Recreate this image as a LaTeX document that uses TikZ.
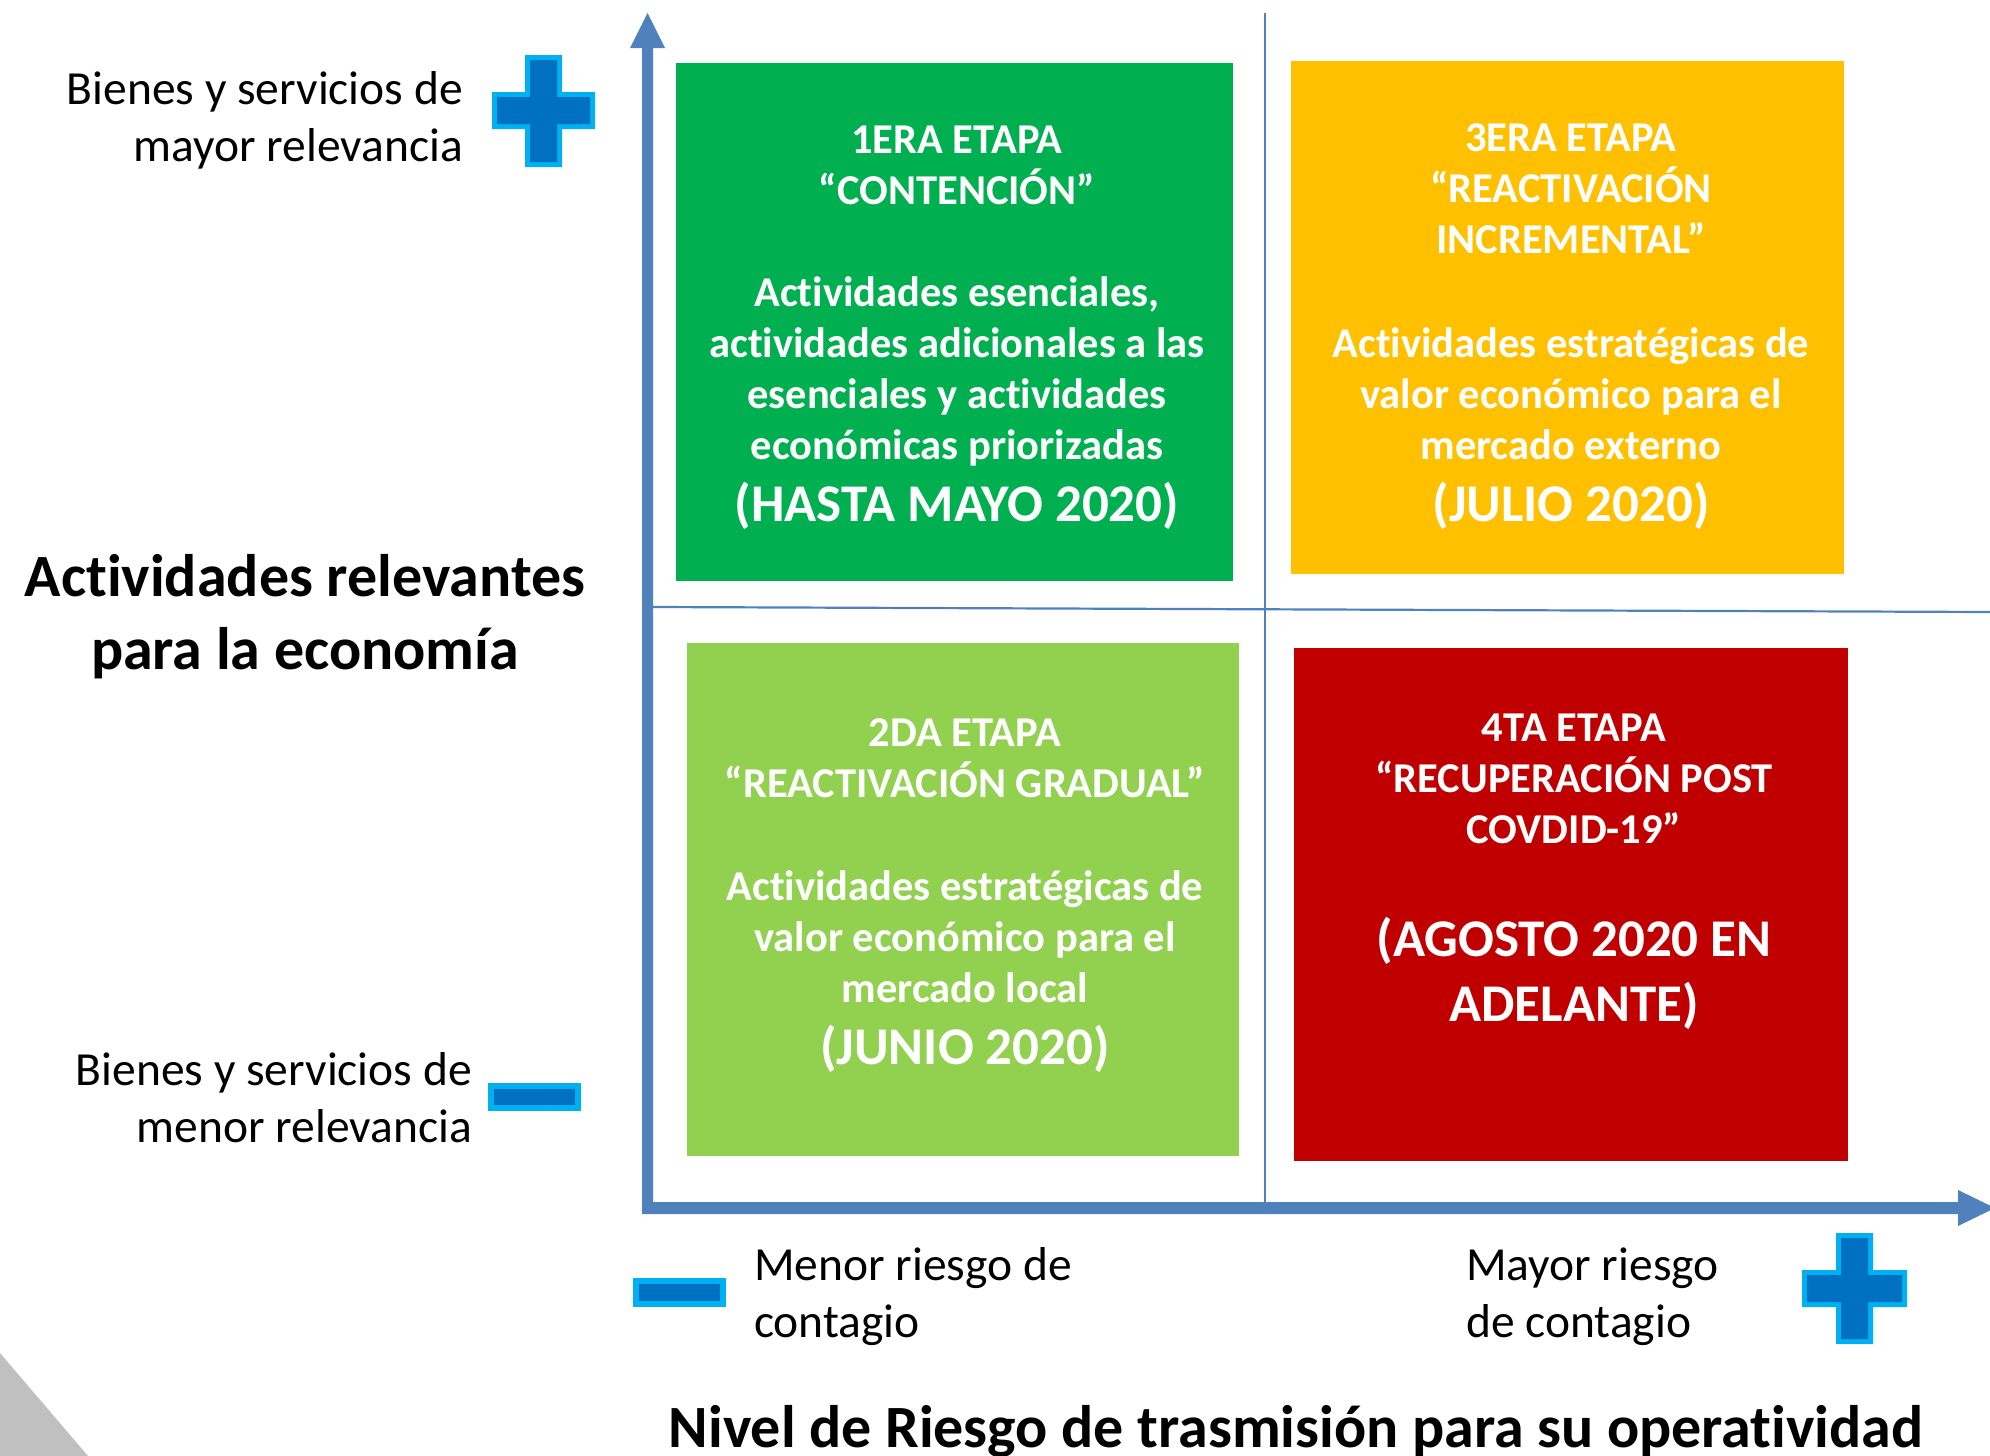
\documentclass[tikz,border=0pt]{standalone}
\usepackage{fontspec}
\setmainfont{Carlito}[Ligatures=NoCommon]
\definecolor{axisblue}{RGB}{79,129,189}
\definecolor{gridblue}{RGB}{79,129,189}
\definecolor{lightblue}{RGB}{0,176,240}
\definecolor{darkblue}{RGB}{0,112,192}
\definecolor{cgreen}{RGB}{0,176,80}
\definecolor{cyellow}{RGB}{255,192,0}
\definecolor{clgreen}{RGB}{146,208,80}
\definecolor{cred}{RGB}{192,0,0}
\definecolor{cgray}{RGB}{192,192,192}
\begin{document}
\begin{tikzpicture}[x=1pt,y=-1pt,
  ln/.style={anchor=base, inner sep=0pt, text=white, font=\bfseries\fontsize{42.5}{50}\selectfont},
  big/.style={anchor=base, inner sep=0pt, text=white, font=\bfseries\fontsize{53}{62}\selectfont},
  side/.style={inner sep=0pt, text=black, font=\fontsize{47.5}{56}\selectfont},
  ttl/.style={anchor=base, inner sep=0pt, text=black, font=\bfseries\fontsize{60}{70}\selectfont},
  grid line/.style={draw=gridblue, line width=2.2pt}]
\useasboundingbox (0,0) rectangle (1990,1456);

% gray corner
\fill[cgray] (0,1353) -- (88,1456) -- (0,1456) -- cycle;

% grid lines
\draw[grid line] (1265,13) -- (1265,1202);
\draw[grid line] (653,607) -- (1990,612);

% boxes
\fill[cgreen] (676,63) rectangle (1233,581);
\fill[cyellow] (1291,61) rectangle (1844,574);
\fill[clgreen] (687,643) rectangle (1239,1156);
\fill[cred] (1294,648) rectangle (1848,1161);

% axes
\fill[axisblue] (642,1214) -- (642,48) -- (630,48) -- (647.5,13) -- (665,48) -- (653,48) -- (653,1202) -- (1958,1202) -- (1958,1190) -- (1995,1208) -- (1958,1226) -- (1958,1214) -- cycle;

% plus top left
\fill[lightblue] (525,55) -- (562,55) -- (562,92) -- (595,92) -- (595,129) -- (562,129) -- (562,167) -- (525,167) -- (525,129) -- (492,129) -- (492,92) -- (525,92) -- cycle;
\fill[darkblue] (530,60) -- (557,60) -- (557,97) -- (590,97) -- (590,124) -- (557,124) -- (557,162) -- (530,162) -- (530,124) -- (497,124) -- (497,97) -- (530,97) -- cycle;
% plus bottom right
\fill[lightblue] (1836,1233) -- (1873,1233) -- (1873,1270) -- (1907,1270) -- (1907,1307) -- (1873,1307) -- (1873,1344) -- (1836,1344) -- (1836,1307) -- (1802,1307) -- (1802,1270) -- (1836,1270) -- cycle;
\fill[darkblue] (1841,1238) -- (1868,1238) -- (1868,1275) -- (1902,1275) -- (1902,1302) -- (1868,1302) -- (1868,1339) -- (1841,1339) -- (1841,1302) -- (1807,1302) -- (1807,1275) -- (1841,1275) -- cycle;
% minus left
\fill[lightblue] (488,1083) rectangle (581,1111);
\fill[darkblue] (494,1089) rectangle (575,1105);
% minus bottom
\fill[lightblue] (633,1278) rectangle (726,1307);
\fill[darkblue] (639,1284) rectangle (720,1301);

% green box text
\node[ln] (g1) at (957,153) {1ERA ETAPA};
\node[ln] (g2) at (957,204) {“CONTENCIÓN”};
\node[ln] (g3) at (957,306) {Actividades esenciales,};
\node[ln] (g4) at (957,357) {actividades adicionales a las};
\node[ln] (g5) at (957,408) {esenciales y actividades};
\node[ln] (g6) at (957,459) {económicas priorizadas};
\node[big] (g7) at (957,521) {(HASTA MAYO 2020)};

% yellow box text
\node[ln] (y1) at (1571,151) {3ERA ETAPA};
\node[ln] (y2) at (1571,202) {“REACTIVACIÓN};
\node[ln] (y3) at (1571,253) {INCREMENTAL”};
\node[ln] (y4) at (1571,357) {Actividades estratégicas de};
\node[ln] (y5) at (1571,408) {valor económico para el};
\node[ln] (y6) at (1571,459) {mercado externo};
\node[big] (y7) at (1571,521) {(JULIO 2020)};

% light green box text
\node[ln] (l1) at (965,746) {2DA ETAPA};
\node[ln] (l2) at (965,797) {“REACTIVACIÓN GRADUAL”};
\node[ln] (l3) at (965,900) {Actividades estratégicas de};
\node[ln] (l4) at (965,951) {valor económico para el};
\node[ln] (l5) at (965,1002) {mercado local};
\node[big] (l6) at (965,1064) {(JUNIO 2020)};

% red box text
\node[ln] (r1) at (1574,741) {4TA ETAPA};
\node[ln] (r2) at (1574,792) {“RECUPERACIÓN POST};
\node[ln] (r3) at (1574,843) {COVDID-19”};
\node[big] (r4) at (1574,956) {(AGOSTO 2020 EN};
\node[big] (r5) at (1574,1021) {ADELANTE)};

% side labels
\node[side, anchor=base east] (s1) at (463,104) {Bienes y servicios de};
\node[side, anchor=base east] (s2) at (463,161) {mayor relevancia};
\node[side, anchor=base east] (s3) at (472,1085) {Bienes y servicios de};
\node[side, anchor=base east] (s4) at (472,1142) {menor relevancia};
\node[side, anchor=base west] (m1) at (754,1280) {Menor riesgo de};
\node[side, anchor=base west] (m2) at (754,1337) {contagio};
\node[side, anchor=base west] (p1) at (1466,1280) {Mayor riesgo};
\node[side, anchor=base west] (p2) at (1466,1337) {de contagio};

% titles
\node[ttl] (t1) at (305,596) {Actividades relevantes};
\node[ttl] (t2) at (305,669) {para la economía};
\node[ttl] (t3) at (1296,1447) {Nivel de Riesgo de trasmisión para su operatividad};
\end{tikzpicture}
\end{document}
